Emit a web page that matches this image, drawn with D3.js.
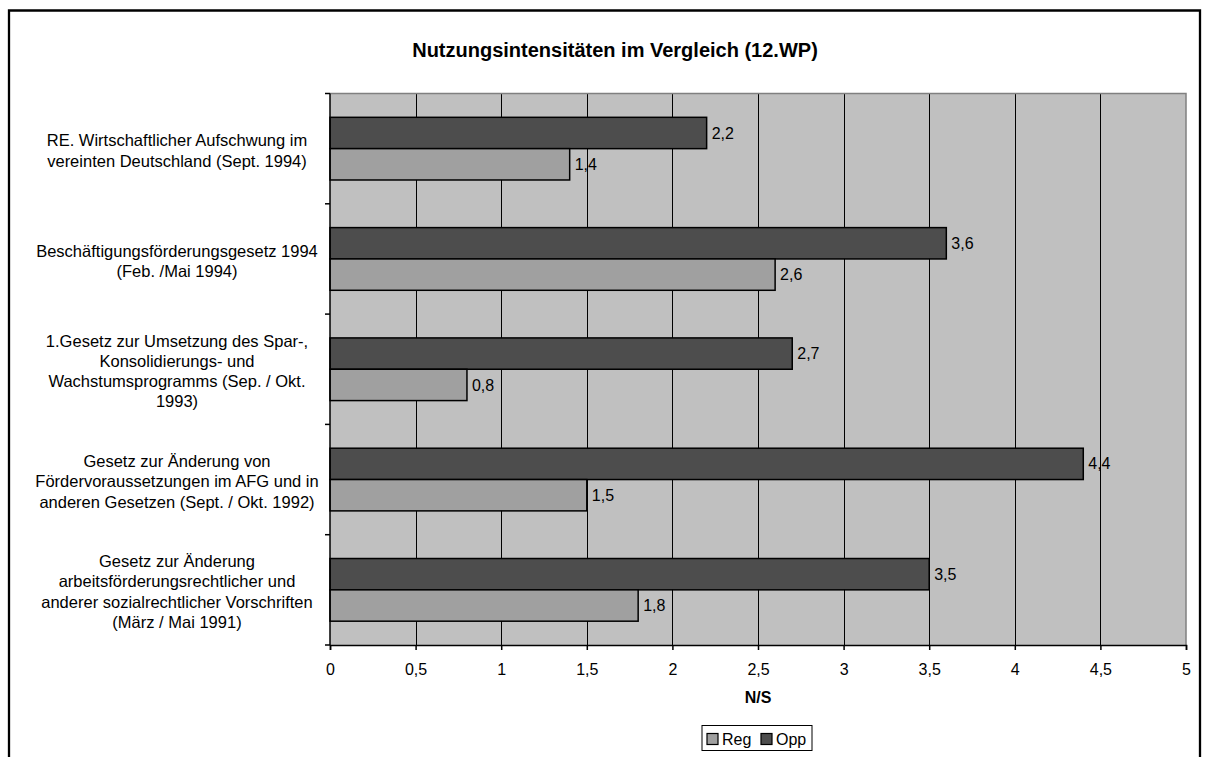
<!DOCTYPE html>
<html>
<head>
<meta charset="utf-8">
<script src="https://cdn.jsdelivr.net/npm/d3@7"></script>
<style>
  html, body { margin: 0; padding: 0; background: #fff; }
  svg { display: block; }
  text { font-family: Arial, "Liberation Sans", sans-serif; fill: #000; }
</style>
</head>
<body>
<svg id="chart" width="1208" height="757"></svg>
<script>
// Bill categories (top to bottom), each split into its wrapped label lines
const categories = [
  "RE. Wirtschaftlicher Aufschwung im vereinten Deutschland (Sept. 1994)",
  "Beschäftigungsförderungsgesetz 1994 (Feb. /Mai 1994)",
  "1.Gesetz zur Umsetzung des Spar-, Konsolidierungs- und Wachstumsprogramms (Sep. / Okt. 1993)",
  "Gesetz zur Änderung von Fördervoraussetzungen im AFG und in anderen Gesetzen (Sept. / Okt. 1992)",
  "Gesetz zur Änderung arbeitsförderungsrechtlicher und anderer sozialrechtlicher Vorschriften (März / Mai 1991)"
];
const categoryLines = [
  ["RE. Wirtschaftlicher Aufschwung im", "vereinten Deutschland (Sept. 1994)"],
  ["Beschäftigungsförderungsgesetz 1994", "(Feb. /Mai 1994)"],
  ["1.Gesetz zur Umsetzung des Spar-,", "Konsolidierungs- und", "Wachstumsprogramms (Sep. / Okt.", "1993)"],
  ["Gesetz zur Änderung von", "Fördervoraussetzungen im AFG und in", "anderen Gesetzen (Sept. / Okt. 1992)"],
  ["Gesetz zur Änderung", "arbeitsförderungsrechtlicher und", "anderer sozialrechtlicher Vorschriften", "(März / Mai 1991)"]
];

// Series values (N/S)
const seriesNames = ["Reg", "Opp"];
const regValues = [1.4, 2.6, 0.8, 1.5, 1.8];
const oppValues = [2.2, 3.6, 2.7, 4.4, 3.5];

// Axis ticks
const xTicks = [0, 0.5, 1, 1.5, 2, 2.5, 3, 3.5, 4, 4.5, 5];

const titleText = "Nutzungsintensitäten im Vergleich (12.WP)";
const xAxisTitle = "N/S";

const colors = { Reg: "#a0a0a0", Opp: "#4d4d4d" };

const svg = d3.select("#chart");

// outer frame
svg.append("path")
  .attr("d", "M9,757 V10.5 H1200 V757")
  .attr("fill", "none")
  .attr("stroke", "#000")
  .attr("stroke-width", 2.3);

const plot = { left: 330, right: 1186, top: 93.5, bottom: 645 };

const x = d3.scaleLinear().domain([0, 5]).range([plot.left, plot.right]);
const y = d3.scaleBand().domain(categories).range([plot.top, plot.bottom]).paddingInner(0).paddingOuter(0);
const inner = d3.scaleBand().domain(["Opp", "Reg"]).range([0, y.bandwidth()]).paddingInner(0).paddingOuter(0.76);

// plot background
svg.append("rect")
  .attr("x", plot.left).attr("y", plot.top)
  .attr("width", plot.right - plot.left).attr("height", plot.bottom - plot.top)
  .attr("fill", "#c0c0c0");

// vertical gridlines
svg.append("g")
  .selectAll("line")
  .data(xTicks.filter(t => t > 0 && t < 5))
  .join("line")
  .attr("x1", d => Math.round(x(d)) + 0.5).attr("x2", d => Math.round(x(d)) + 0.5)
  .attr("y1", plot.top).attr("y2", plot.bottom)
  .attr("stroke", "#000").attr("stroke-width", 1);

// plot top and right border (gray)
svg.append("path")
  .attr("d", `M${plot.left},${plot.top} H${plot.right} V${plot.bottom}`)
  .attr("fill", "none").attr("stroke", "#808080").attr("stroke-width", 1.5);

// bars
const rows = categories.map((c, i) => ({ cat: c, Reg: regValues[i], Opp: oppValues[i] }));
const groups = svg.append("g").selectAll("g")
  .data(rows)
  .join("g")
  .attr("transform", d => `translate(0,${y(d.cat)})`);

groups.selectAll("rect")
  .data(d => ["Opp", "Reg"].map(k => ({ key: k, value: d[k] })))
  .join("rect")
  .attr("x", x(0))
  .attr("y", d => inner(d.key))
  .attr("width", d => x(d.value) - x(0))
  .attr("height", inner.bandwidth())
  .attr("fill", d => colors[d.key])
  .attr("stroke", "#000")
  .attr("stroke-width", 1.5);

// value labels
groups.selectAll("text")
  .data(d => ["Opp", "Reg"].map(k => ({ key: k, value: d[k] })))
  .join("text")
  .attr("x", d => x(d.value) + 5)
  .attr("y", d => inner(d.key) + inner.bandwidth() / 2)
  .attr("dy", "0.35em")
  .attr("font-size", 16)
  .text(d => String(d.value).replace(".", ","));

// left axis line and category ticks
const boundaries = categories.map(c => y(c)).concat([plot.bottom]);
svg.append("line")
  .attr("x1", plot.left).attr("x2", plot.left)
  .attr("y1", plot.top).attr("y2", plot.bottom)
  .attr("stroke", "#000").attr("stroke-width", 1.5);
svg.append("g").selectAll("line")
  .data(boundaries)
  .join("line")
  .attr("x1", plot.left - 5).attr("x2", plot.left)
  .attr("y1", d => d).attr("y2", d => d)
  .attr("stroke", "#000").attr("stroke-width", 1.5);

// bottom axis
const xAxis = d3.axisBottom(x)
  .tickValues(xTicks)
  .tickSize(5)
  .tickPadding(14)
  .tickFormat(d => String(d).replace(".", ","));
const gx = svg.append("g")
  .attr("transform", `translate(0,${plot.bottom})`)
  .call(xAxis);
gx.select(".domain").attr("stroke", "#000").attr("stroke-width", 1.5);
gx.selectAll(".tick line").attr("stroke", "#000").attr("stroke-width", 1.5);
gx.selectAll(".tick text")
  .attr("font-size", 16)
  .attr("font-family", "Arial, 'Liberation Sans', sans-serif")
  .attr("fill", "#000");

// category labels
const catLabel = svg.append("g").selectAll("text")
  .data(categoryLines)
  .join("text")
  .attr("text-anchor", "middle")
  .attr("font-size", 16.5);
catLabel.each(function(lines, i) {
  const cy = y(categories[i]) + y.bandwidth() / 2 + 2;
  const lh = 20.3;
  d3.select(this).selectAll("tspan")
    .data(lines)
    .join("tspan")
    .attr("x", 177)
    .attr("y", (l, j) => cy + (j - (lines.length - 1) / 2) * lh)
    .attr("dy", "0.35em")
    .text(l => l);
});

// chart title
svg.append("text")
  .attr("x", 615).attr("y", 57)
  .attr("text-anchor", "middle")
  .attr("font-size", 20)
  .attr("font-weight", "bold")
  .text(titleText);

// x axis title
svg.append("text")
  .attr("x", x(2.5)).attr("y", 703)
  .attr("text-anchor", "middle")
  .attr("font-size", 16)
  .attr("font-weight", "bold")
  .text(xAxisTitle);

// legend
const legend = svg.append("g");
legend.append("rect")
  .attr("x", 702).attr("y", 725.5)
  .attr("width", 110).attr("height", 25)
  .attr("fill", "#fff").attr("stroke", "#000").attr("stroke-width", 1);
const legendX = { Reg: 707, Opp: 761 };
seriesNames.forEach(name => {
  legend.append("rect")
    .attr("x", legendX[name]).attr("y", 733.5)
    .attr("width", 11).attr("height", 11)
    .attr("fill", colors[name]).attr("stroke", "#000").attr("stroke-width", 1.2);
  legend.append("text")
    .attr("x", legendX[name] + 15).attr("y", 739)
    .attr("dy", "0.35em")
    .attr("font-size", 16)
    .text(name);
});
</script>
</body>
</html>
